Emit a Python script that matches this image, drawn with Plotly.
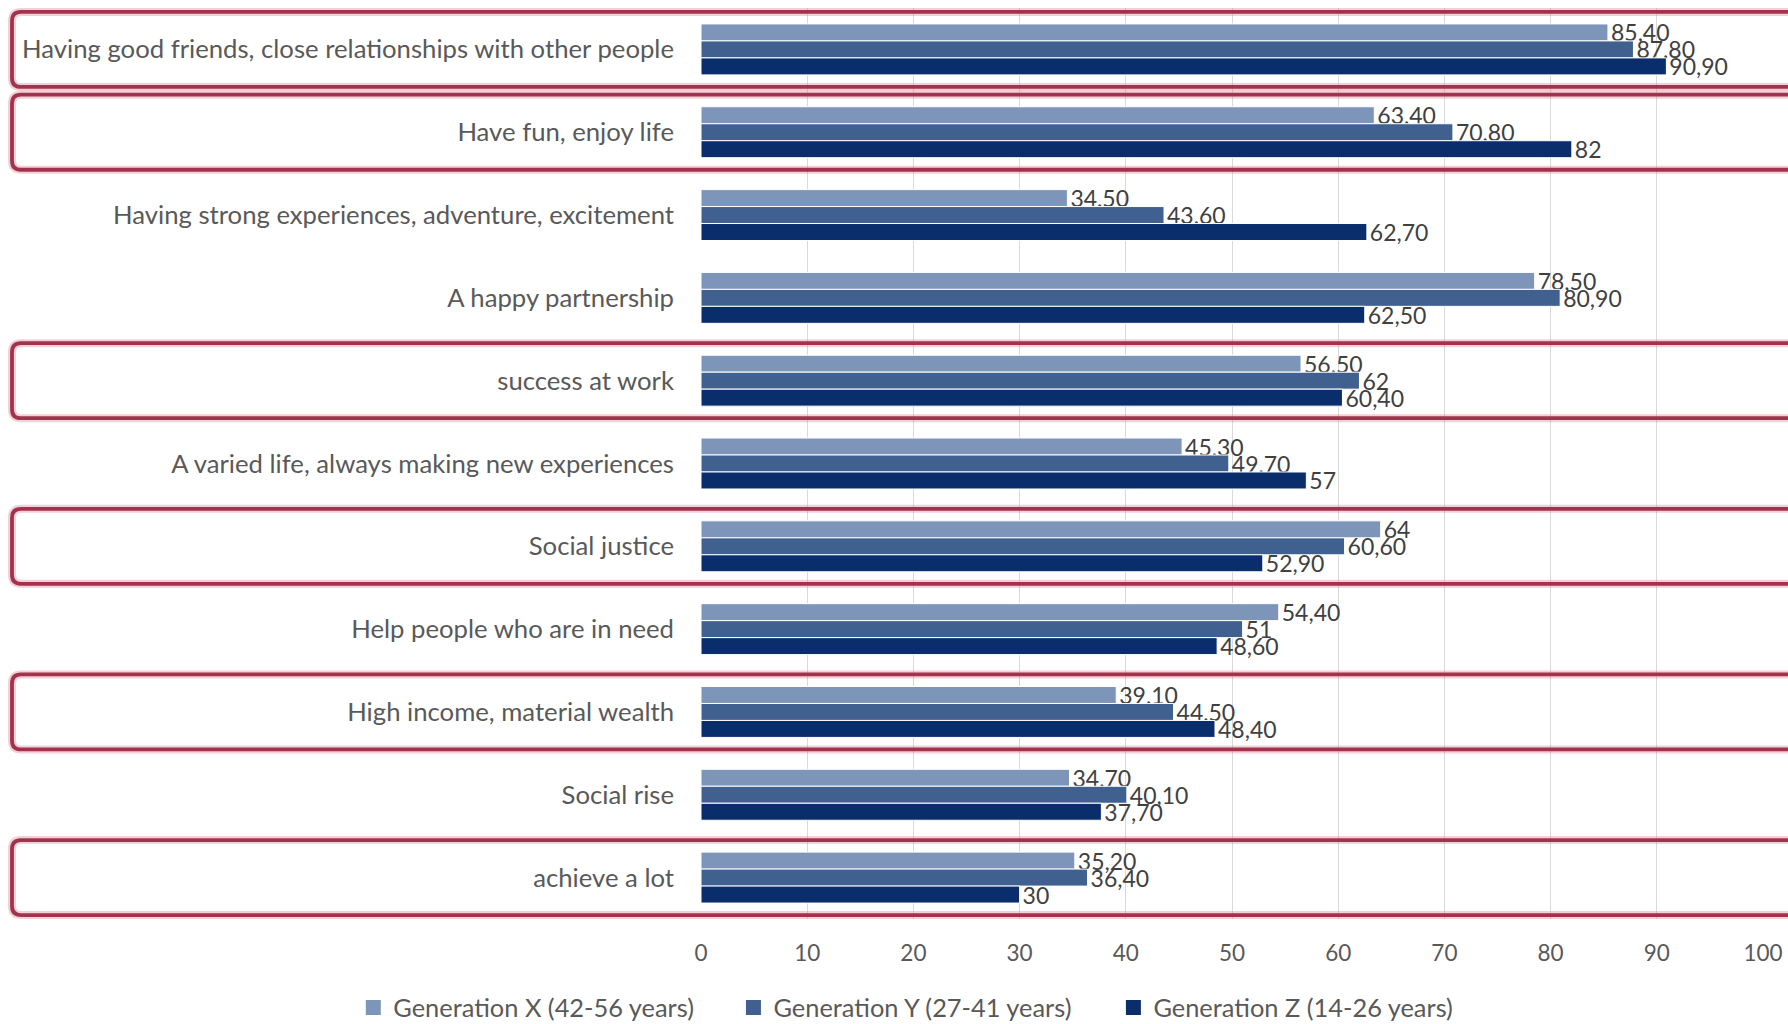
import plotly.graph_objects as go

categories = [
    "Having good friends, close relationships with other people",
    "Have fun, enjoy life",
    "Having strong experiences, adventure, excitement",
    "A happy partnership",
    "success at work",
    "A varied life, always making new experiences",
    "Social justice",
    "Help people who are in need",
    "High income, material wealth",
    "Social rise",
    "achieve a lot",
]
gen_x = [85.4, 63.4, 34.5, 78.5, 56.5, 45.3, 64, 54.4, 39.1, 34.7, 35.2]
gen_y = [87.8, 70.8, 43.6, 80.9, 62, 49.7, 60.6, 51, 44.5, 40.1, 36.4]
gen_z = [90.9, 82, 62.7, 62.5, 60.4, 57, 52.9, 48.6, 48.4, 37.7, 30]
series_names = ["Generation X (42-56 years)", "Generation Y (27-41 years)", "Generation Z (14-26 years)"]
series_colors = ["#7d95b9", "#40608f", "#0a2d6c"]
highlighted = [0, 1, 4, 6, 8, 10]
x_ticks = [0, 10, 20, 30, 40, 50, 60, 70, 80, 90, 100]


def fmt(v):
    if float(v).is_integer():
        return str(int(v))
    return f"{v:.2f}".replace(".", ",")


W, H = 1788, 1024
ML, MR, MT, MB = 701, 25, 8, 105
PW, PH = W - ML - MR, H - MT - MB
N = len(categories)

legend_ids = ["legend", "legend2", "legend3"]
legend_x = [0.1976, 0.4102, 0.6227]

fig = go.Figure()
for name, vals, col in zip(series_names, [gen_x, gen_y, gen_z], series_colors):
    fig.add_trace(go.Bar(
        y=categories, x=vals, name=name, orientation="h",
        marker=dict(color=col, line=dict(color="white", width=1)),
        text=[fmt(v) for v in vals], textposition="outside",
        textfont=dict(size=23, color="#404040", family="Lato"),
        constraintext="none", cliponaxis=False, showlegend=False,
    ))
# legend entries with larger square swatches
for name, col, lid in zip(series_names, series_colors, legend_ids):
    fig.add_trace(go.Scatter(
        x=[None], y=[None], mode="markers", name=name, legend=lid,
        marker=dict(symbol="square", size=15, color=col), showlegend=True,
    ))

# rounded highlight boxes (paper coords)
shapes = []
half = 0.453
r = 9
for i in highlighted:
    top_px = MT + (i + 0.5 - half) * PH / N
    bot_px = MT + (i + 0.5 + half) * PH / N
    left_px = 12
    right_px = W + 20

    def px(xp):
        return (xp - ML) / PW

    def py(yp):
        return 1 - (yp - MT) / PH

    path = (
        f"M {px(right_px)},{py(top_px)} "
        f"L {px(left_px + r)},{py(top_px)} "
        f"Q {px(left_px)},{py(top_px)} {px(left_px)},{py(top_px + r)} "
        f"L {px(left_px)},{py(bot_px - r)} "
        f"Q {px(left_px)},{py(bot_px)} {px(left_px + r)},{py(bot_px)} "
        f"L {px(right_px)},{py(bot_px)}"
    )
    shapes.append(dict(type="path", xref="paper", yref="paper", path=path,
                       line=dict(color="rgba(220,120,140,0.35)", width=8), layer="above"))
    shapes.append(dict(type="path", xref="paper", yref="paper", path=path,
                       line=dict(color="#a2334d", width=3.8), layer="above"))

legend_common = dict(orientation="h", xref="container", yref="container",
                     y=1 - 1008 / H, xanchor="left", yanchor="middle",
                     font=dict(size=25.4, color="#595959", family="Lato"),
                     itemwidth=30, bgcolor="rgba(0,0,0,0)")

fig.update_layout(
    width=W, height=H,
    margin=dict(l=ML, r=MR, t=MT, b=MB, autoexpand=False),
    paper_bgcolor="white", plot_bgcolor="white",
    barmode="group", bargap=0.385, bargroupgap=0,
    font=dict(family="Lato", color="#595959", size=22),
    shapes=shapes,
    showlegend=True,
    legend=dict(x=legend_x[0], **legend_common),
    legend2=dict(x=legend_x[1], **legend_common),
    legend3=dict(x=legend_x[2], **legend_common),
    xaxis=dict(range=[0, 100], tickvals=x_ticks, showgrid=True, gridcolor="#d9d9d9",
               gridwidth=1, zeroline=False, showline=False, ticks="",
               ticklabelstandoff=18, tickfont=dict(size=22.5, color="#595959")),
    yaxis=dict(type="category", categoryorder="array", categoryarray=categories,
               range=[N - 0.5, -0.5], showgrid=False, zeroline=False, showline=False,
               ticks="", ticklabelstandoff=26, tickfont=dict(size=25.7, color="#595959")),
)

fig.write_html("out.html", config={"displayModeBar": False},
               post_script="document.body.style.margin='0';document.body.style.overflow='hidden';")
